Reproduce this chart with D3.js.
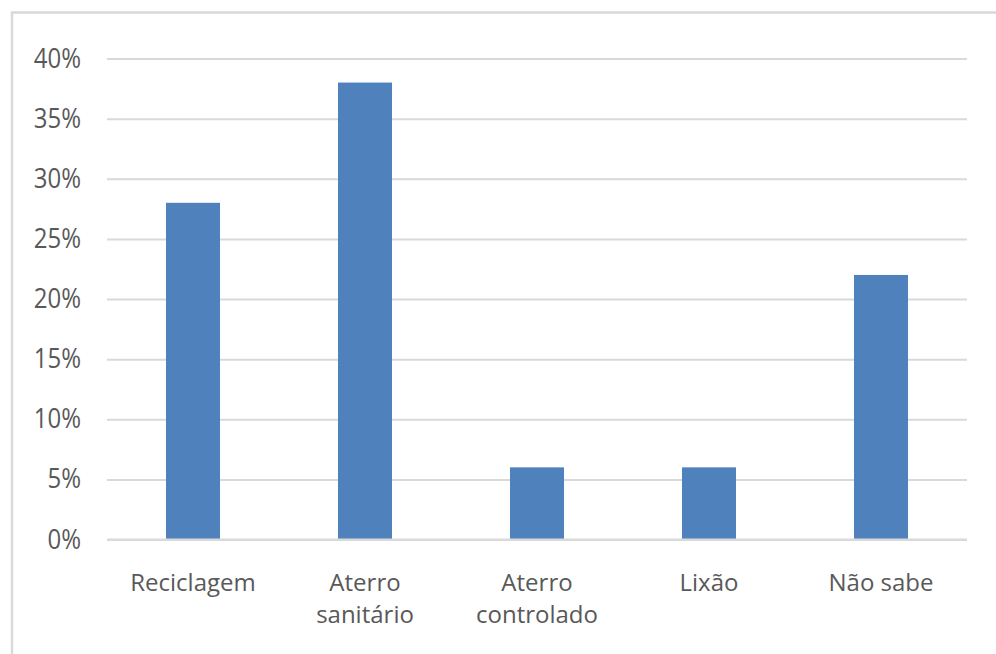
<!DOCTYPE html>
<html><head><meta charset="utf-8">
<script src="https://cdn.jsdelivr.net/npm/d3@7"></script>
<style>body{margin:0;background:#fff;}svg{display:block;}</style>
</head><body>
<script>
const categories = [["Reciclagem"], ["Aterro", "sanitário"], ["Aterro", "controlado"], ["Lixão"], ["Não sabe"]];
const values = [0.28, 0.38, 0.06, 0.06, 0.22];
const yTicks = [0, 0.05, 0.10, 0.15, 0.20, 0.25, 0.30, 0.35, 0.40];

const W = 996, H = 654;
const svg = d3.select("body").append("svg").attr("width", W).attr("height", H);
// outer frame
svg.append("rect").attr("x", 12).attr("y", 12.5).attr("width", 1000).attr("height", 700)
  .attr("fill", "none").attr("stroke", "#d9d9d9").attr("stroke-width", 2.5);

const pL = 107, pR = 967, pT = 58.5, pB = 539.5;
const keys = categories.map(c => c.join(" "));
const x = d3.scaleBand().domain(keys).range([pL, pR]).paddingInner(0.686).paddingOuter(0.343);
const y = d3.scaleLinear().domain([0, 0.40]).range([pB, pT]);
const font = "'Open Sans', sans-serif";

// gridlines + y labels
const yAxis = d3.axisLeft(y).tickValues(yTicks).tickSize(-(pR - pL)).tickFormat(d3.format(".0%")).tickPadding(26);
const gy = svg.append("g").attr("transform", `translate(${pL},0)`).call(yAxis);
gy.select(".domain").remove();
gy.selectAll(".tick line").attr("stroke", "#d9d9d9").attr("stroke-width", 2);
gy.selectAll(".tick text").attr("fill", "#595959").style("font-family", font).style("font-size", "24px")
  .attr("transform", "scale(1,1.12)");

// bars
svg.append("g").selectAll("rect").data(values).join("rect")
  .attr("x", (d, i) => x(keys[i])).attr("width", x.bandwidth())
  .attr("y", d => y(d)).attr("height", d => y(0) - y(d))
  .attr("fill", "#4f81bd");

// baseline over bars
svg.append("line").attr("x1", pL).attr("x2", pR).attr("y1", y(0)).attr("y2", y(0))
  .attr("stroke", "#d9d9d9").attr("stroke-width", 2);

// x labels
const xl = svg.append("g").selectAll("text").data(categories).join("text")
  .attr("text-anchor", "middle").attr("fill", "#595959")
  .style("font-family", font).style("font-size", "24px");
xl.each(function(lines, i) {
  const t = d3.select(this);
  const cx = x(keys[i]) + x.bandwidth() / 2;
  lines.forEach((ln, j) => {
    t.append("tspan").attr("x", cx).attr("y", 591 + j * 32).text(ln);
  });
});
</script>
</body></html>
